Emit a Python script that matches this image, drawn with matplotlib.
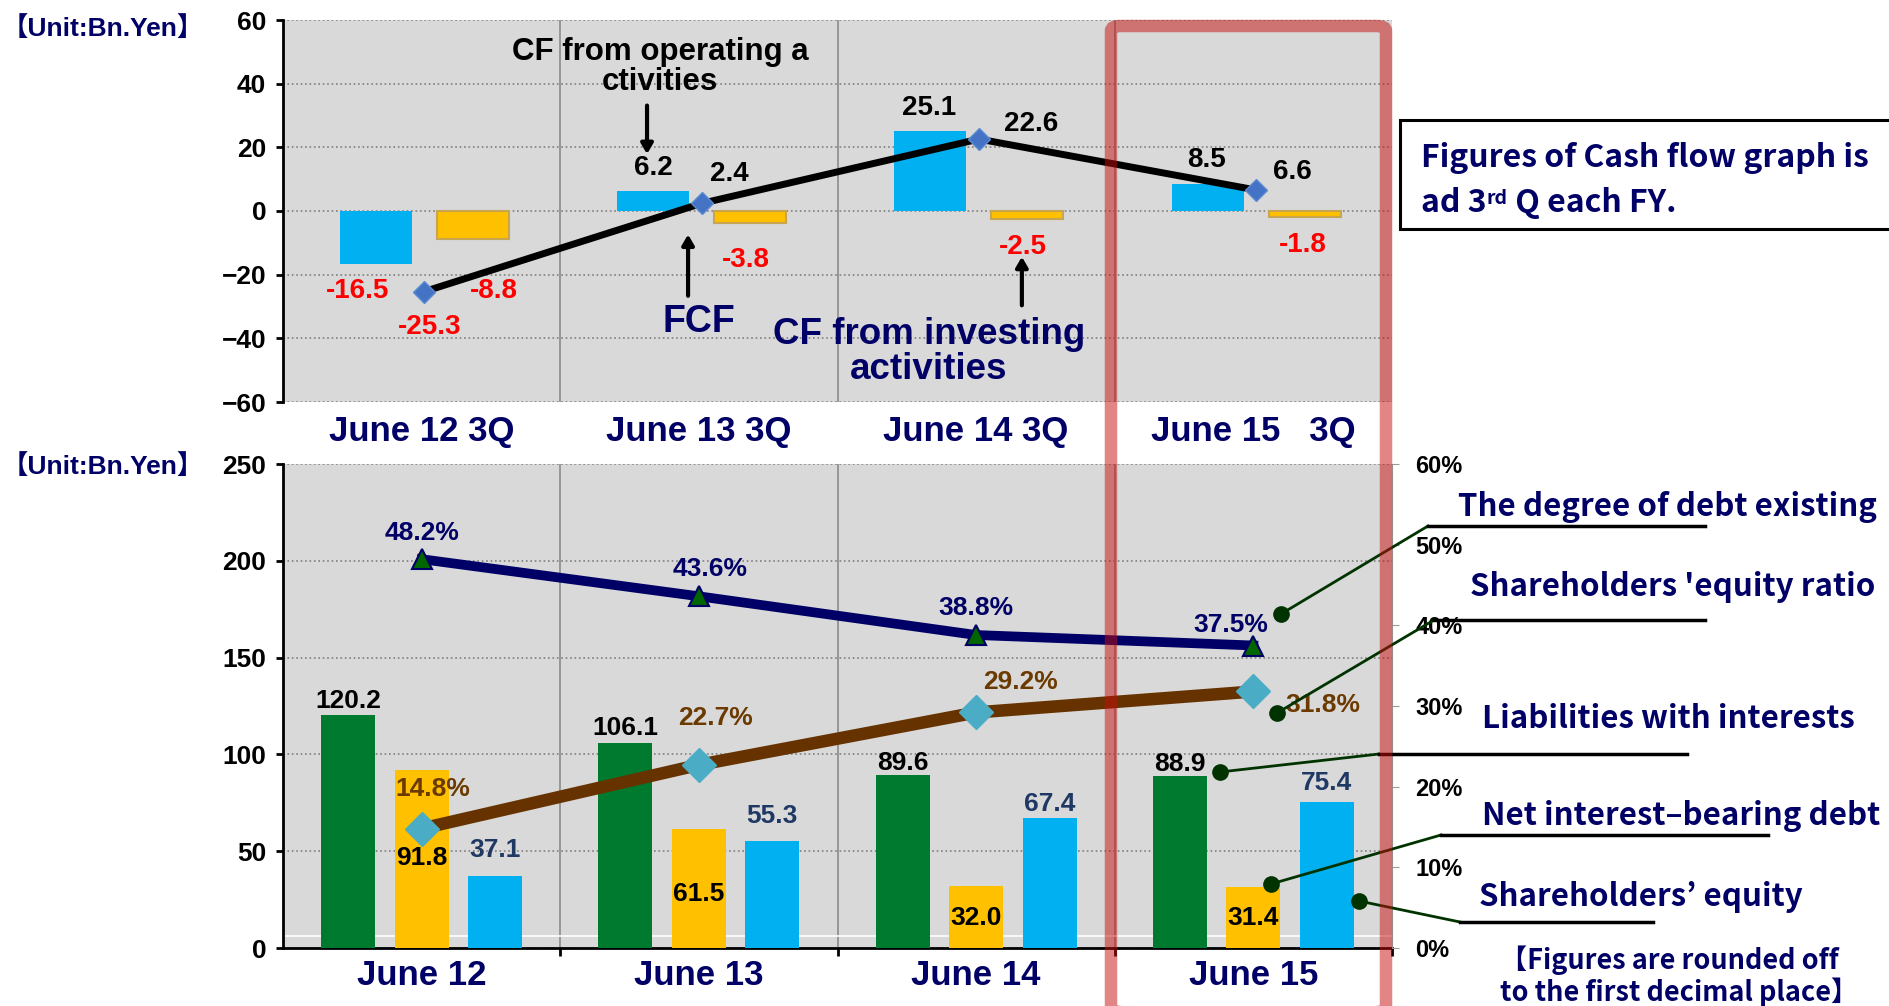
import matplotlib
matplotlib.use("Agg")
import matplotlib.pyplot as plt
import numpy as np
from matplotlib.patches import FancyBboxPatch, Rectangle
from matplotlib.lines import Line2D

W, H = 1889, 1006

# cash flow, 3rd quarter of each FY (Bn. Yen)
cf_quarters = ["June 12 3Q", "June 13 3Q", "June 14 3Q", "June 15   3Q"]
cf_operating = [-16.5, 6.2, 25.1, 8.5]
cf_investing = [-8.8, -3.8, -2.5, -1.8]
fcf = [-25.3, 2.4, 22.6, 6.6]

# balance sheet items (Bn. Yen) and ratios (%)
bs_years = ["June 12", "June 13", "June 14", "June 15"]
equity = [120.2, 106.1, 89.6, 88.9]
net_debt = [91.8, 61.5, 32.0, 31.4]
liabilities = [37.1, 55.3, 67.4, 75.4]
debt_degree = [48.2, 43.6, 38.8, 37.5]
equity_ratio = [14.8, 22.7, 29.2, 31.8]

LAT = ["Liberation Sans", "DejaVu Sans"]
JP = ["Noto Sans CJK JP", "DejaVu Sans"]
LATJP = ["Liberation Sans", "Noto Sans CJK JP"]
NAVY = "#000066"
GRAY_BG = "#D9D9D9"
plt.rcParams["font.family"] = LAT
plt.rcParams["font.weight"] = "bold"


def P(x, y):
    # full-size pixel position (top-left origin) -> figure fraction
    return (x / W, 1 - y / H)


fig = plt.figure(figsize=(W / 100, H / 100), dpi=100)
x = np.arange(4)

# ---------------- top: cash flow ----------------
ax1 = fig.add_axes([283 / W, 1 - 402 / H, (1392 - 283) / W, (402 - 20) / H])
ax1.set_facecolor(GRAY_BG)
ax1.bar(x - 0.165, cf_operating, 0.26, color="#00B0F0", zorder=3)
ax1.bar(x + 0.185, cf_investing, 0.26, color="#FFC000", edgecolor="#C8A650",
        linewidth=1.5, zorder=3)
ax1.plot(x + 0.01, fcf, color="black", lw=5, zorder=4, marker="D", ms=11,
         mfc="#4472C4", mec="#5B8BD0")
ax1.set_xlim(-0.5, 3.5)
ax1.set_ylim(-60, 60)
ax1.set_yticks(range(-60, 61, 20))
ax1.yaxis.grid(True, ls=":", color="#7F7F7F", lw=1.2)
ax1.set_axisbelow(True)
for b in [0.5, 1.5, 2.5]:
    ax1.axvline(b, color="#8C8C8C", lw=1.2, zorder=1)
for s in ["top", "right", "bottom"]:
    ax1.spines[s].set_visible(False)
ax1.spines["left"].set_linewidth(2)
ax1.set_xticks(x)
ax1.set_xticklabels(cf_quarters, color=NAVY, fontsize=25, fontweight="bold")
ax1.tick_params(axis="x", length=0, pad=9)
ax1.tick_params(axis="y", length=5, width=2, pad=7, labelsize=19)

# value labels (top)
op_lab = [(-0.23, -25.2), (-0.165, 13.4), (-0.17, 32.4), (-0.17, 16.1)]
inv_lab = [(0.26, -25.2), (0.17, -15.3), (0.17, -11.2), (0.18, -10.8)]
fcf_lab = [(0.03, -36.5), (0.11, 11.5), (0.2, 27.4), (0.14, 12.3)]
for i in range(4):
    v = cf_operating[i]
    ax1.text(i + op_lab[i][0], op_lab[i][1], f"{v:.1f}", ha="center", va="center",
             fontsize=20, color="red" if v < 0 else "black", zorder=6)
    v = cf_investing[i]
    ax1.text(i + inv_lab[i][0], inv_lab[i][1], f"{v:.1f}", ha="center", va="center",
             fontsize=20, color="red", zorder=6)
    v = fcf[i]
    ax1.text(i + fcf_lab[i][0], fcf_lab[i][1], f"{v:.1f}", ha="center", va="center",
             fontsize=20, color="red" if v < 0 else "black", zorder=6)

arrow = dict(arrowstyle="-|>,head_width=0.35,head_length=0.6", color="black", lw=3)
ax1.text(0.86, 45.2, "CF from operating a\nctivities", ha="center", va="center",
         fontsize=22.5, color="black", linespacing=1.0, zorder=6)
ax1.annotate("", xy=(0.813, 17), xytext=(0.813, 34), arrowprops=arrow, zorder=6)
ax1.text(1.0, -35, "FCF", ha="center", va="center", fontsize=27, color=NAVY, zorder=6)
ax1.annotate("", xy=(0.961, -6.5), xytext=(0.961, -27.5), arrowprops=arrow, zorder=6)
ax1.text(1.83, -44.3, "CF from investing\nactivities", ha="center", va="center",
         fontsize=26.5, color=NAVY, linespacing=1.0, zorder=6)
ax1.annotate("", xy=(2.165, -13.5), xytext=(2.165, -30.5), arrowprops=arrow, zorder=6)

# ---------------- bottom: balance sheet ----------------
ax2 = fig.add_axes([283 / W, 1 - 948 / H, (1392 - 283) / W, (948 - 464) / H])
ax2.set_facecolor(GRAY_BG)
ax2.bar(x - 0.265, equity, 0.195, color="#007A2E", zorder=3)
ax2.bar(x, net_debt, 0.195, color="#FFC000", zorder=3)
ax2.bar(x + 0.265, liabilities, 0.195, color="#00B0F0", zorder=3)
ax2.axhline(6, color="white", lw=1.2, zorder=2)
ax2.set_xlim(-0.5, 3.5)
ax2.set_ylim(0, 250)
ax2.set_yticks(range(0, 251, 50))
ax2.yaxis.grid(True, ls=":", color="#7F7F7F", lw=1.2)
ax2.set_axisbelow(True)
for b in [0.5, 1.5, 2.5]:
    ax2.axvline(b, color="#8C8C8C", lw=1.2, zorder=1)
for s in ["top", "right"]:
    ax2.spines[s].set_visible(False)
ax2.spines["left"].set_linewidth(2)
ax2.spines["bottom"].set_linewidth(2)
ax2.set_xticks(x)
ax2.set_xticklabels(bs_years, color=NAVY, fontsize=25, fontweight="bold")
ax2.set_xticks([0.5, 1.5, 2.5, 3.5], minor=True)
ax2.tick_params(axis="x", which="major", length=0, pad=8)
ax2.tick_params(axis="x", which="minor", length=6, width=2, direction="out")
ax2.tick_params(axis="y", length=5, width=2, pad=7, labelsize=19)

ax2r = ax2.twinx()
ax2r.set_ylim(0, 60)
ax2r.set_yticks(range(0, 61, 10))
ax2r.set_yticklabels([f"{v}%" for v in range(0, 61, 10)])
for s in ["top", "left", "bottom"]:
    ax2r.spines[s].set_visible(False)
ax2r.spines["right"].set_color("#9A9A9A")
ax2r.tick_params(axis="y", length=5, color="#9A9A9A", pad=12, labelsize=17)
ax2r.plot(x, debt_degree, color="#000066", lw=7, zorder=4, marker="^", ms=15,
          mfc="#006600", mec="#000066", mew=1.5)
ax2r.plot(x, equity_ratio, color="#663300", lw=9, zorder=4, marker="D", ms=17,
          mfc="#4BACC6", mec="#4BACC6")

green_dy = [7.3, 7.7, 6.2, 6.2]
yellow_y = [46.6, 28, 15.5, 15.5]
blue_dy = [13.3, 13.1, 7.2, 9.8]
navy_lab = [(0.0, 3.3), (0.04, 3.4), (0.0, 3.3), (-0.08, 2.6)]
brown_lab = [(0.04, 4.9), (0.06, 5.8), (0.16, 3.8), (0.25, -1.7)]
for i in range(4):
    ax2.text(i - 0.265, equity[i] + green_dy[i], f"{equity[i]:.1f}", ha="center",
             va="center", fontsize=19, color="black", zorder=6)
    ax2.text(i, yellow_y[i], f"{net_debt[i]:.1f}", ha="center", va="center",
             fontsize=19, color="black", zorder=6)
    ax2.text(i + 0.265, liabilities[i] + blue_dy[i], f"{liabilities[i]:.1f}",
             ha="center", va="center", fontsize=19, color="#1F3864", zorder=6)
    ax2r.text(i + navy_lab[i][0], debt_degree[i] + navy_lab[i][1],
              f"{debt_degree[i]:.1f}%", ha="center", va="center", fontsize=19,
              color=NAVY, zorder=6)
    ax2r.text(i + brown_lab[i][0], equity_ratio[i] + brown_lab[i][1],
              f"{equity_ratio[i]:.1f}%", ha="center", va="center", fontsize=19,
              color="#6B3A00", zorder=6)

# ---------------- texts outside plots ----------------
fig.text(*P(103, 28), "【Unit:Bn.Yen】", ha="center", va="center", fontsize=19,
         color=NAVY, family=LATJP)
fig.text(*P(103, 466), "【Unit:Bn.Yen】", ha="center", va="center", fontsize=19,
         color=NAVY, family=LATJP)

# note box
fig.add_artist(Rectangle(P(1400, 229), (1895 - 1400) / W, (229 - 120) / H,
                         transform=fig.transFigure, fill=True, fc="white",
                         ec="black", lw=2.2))
fig.text(*P(1421, 158), "Figures of Cash flow graph is", ha="left", va="center",
         fontsize=23, color=NAVY, family=JP)
fig.text(*P(1421, 203), "ad 3", ha="left", va="center", fontsize=23,
         color=NAVY, family=JP)

# right side legend with leader lines
legend_items = [
    ("The degree of debt existing", (1281, 614), (1428, 526), 1705, (1458, 507)),
    ("Shareholders 'equity ratio", (1277, 713), (1434, 620), 1705, (1470, 587)),
    ("Liabilities with interests", (1220, 772), (1379, 754), 1687, (1482, 719)),
    ("Net interest\u2013bearing debt", (1271, 884), (1441, 835), 1768, (1482, 816)),
    ("Shareholders’ equity", (1359, 901), (1460, 922), 1653, (1479, 897)),
]
for label, dot, knee, end, tpos in legend_items:
    fig.add_artist(Line2D([P(*dot)[0], P(*knee)[0]], [P(*dot)[1], P(*knee)[1]],
                          transform=fig.transFigure, color="#003300", lw=2))
    fig.add_artist(Line2D([P(*knee)[0], end / W], [P(*knee)[1], P(*knee)[1]],
                          transform=fig.transFigure, color="black", lw=2.5))
    fig.add_artist(Line2D([P(*dot)[0]], [P(*dot)[1]], transform=fig.transFigure,
                          marker="o", ms=11, color="#003300"))
    fig.text(*P(*tpos), label, ha="left", va="center", fontsize=22.5, color=NAVY,
             family=JP)

fig.text(*P(1500, 960), "【Figures are rounded off", ha="left", va="center",
         fontsize=19.5, color=NAVY, family=JP)
fig.text(*P(1500, 992), "to the first decimal place】", ha="left", va="center",
         fontsize=19.5, color=NAVY, family=JP)

# highlight frame around the latest FY
fig.add_artist(FancyBboxPatch(P(1111, 1012), (1386 - 1111) / W, (1012 - 26) / H,
                              boxstyle="round,pad=0,rounding_size=0.005",
                              transform=fig.transFigure, fill=False,
                              ec=(0.78, 0.05, 0.05, 0.5), lw=9, zorder=20))

# superscript "rd" and rest of the note line, placed after measuring "ad 3"
fig.canvas.draw()
renderer = fig.canvas.get_renderer()
t_a = [t for t in fig.texts if t.get_text() == "ad 3"][0]
bb = t_a.get_window_extent(renderer)
t_b = fig.text(bb.x1 / W, (bb.y1 - 2) / H, "rd", ha="left", va="top", fontsize=14,
               color=NAVY, family=JP)
bb2 = t_b.get_window_extent(renderer)
fig.text(bb2.x1 / W, bb.y0 / H, " Q each FY.", ha="left", va="bottom", fontsize=23,
         color=NAVY, family=JP)

fig.savefig("out.png", dpi=100)
